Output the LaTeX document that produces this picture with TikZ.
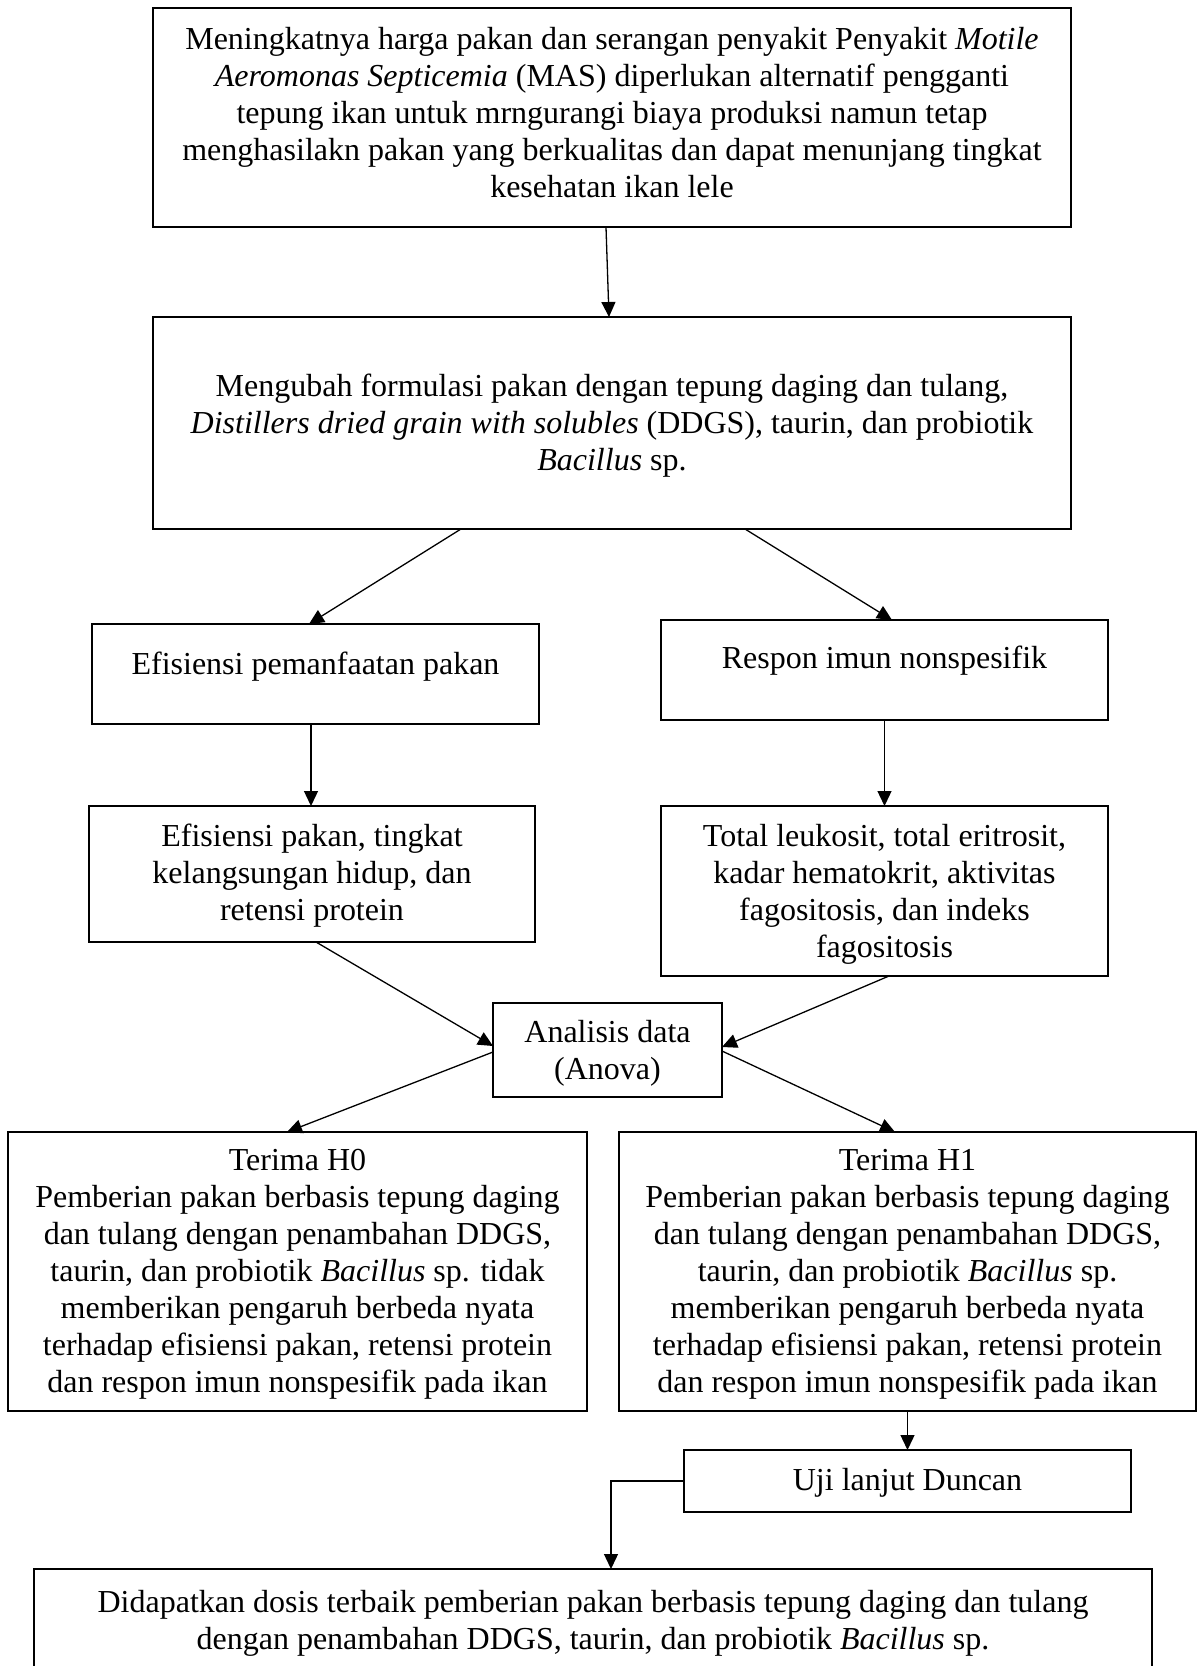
\documentclass[tikz,border=0pt]{standalone}
\usepackage{fontspec}
\setmainfont{Liberation Serif}
\usetikzlibrary{arrows.meta,calc}
\begin{document}
\begin{tikzpicture}[x=1pt,y=-1pt,
  box/.style={draw,line width=2.4pt,inner sep=0pt,outer sep=0pt},
  txt/.style={font=\fontsize{32}{37}\selectfont,align=center,inner sep=0pt},
  arr/.style={line width=1.3pt,-{Triangle[length=15pt,width=14pt]}}]
\useasboundingbox (0,0) rectangle (1198,1666);
\fill[white] (0,0) rectangle (1198,1666);
\clip (0,0) rectangle (1198,1666);

% boxes
\node[box,minimum width=918pt,minimum height=219pt] (top) at (612,117.5) {};
\node[box,minimum width=918pt,minimum height=212pt] (b2) at (612,423) {};
\node[box,minimum width=447pt,minimum height=100pt] (efp) at (315.5,674) {};
\node[box,minimum width=447pt,minimum height=100pt] (rin) at (884.5,670) {};
\node[box,minimum width=446pt,minimum height=136pt] (efk) at (312,874) {};
\node[box,minimum width=447pt,minimum height=170pt] (tot) at (884.5,891) {};
\node[box,minimum width=229pt,minimum height=94pt] (ana) at (607.5,1050) {};
\node[box,minimum width=579pt,minimum height=279pt] (h0) at (297.5,1271.5) {};
\node[box,minimum width=577pt,minimum height=279pt] (h1) at (907.5,1271.5) {};
\node[box,minimum width=447pt,minimum height=62pt] (uji) at (907.5,1481) {};
\node[box,minimum width=1118pt,minimum height=140pt] (bot) at (593,1639) {};

% texts
\node[txt] (ttop) at (612,113) {Meningkatnya harga pakan dan serangan penyakit Penyakit \textit{Motile}\\
\textit{Aeromonas Septicemia} (MAS) diperlukan alternatif pengganti\\
tepung ikan untuk mrngurangi biaya produksi namun tetap\\
menghasilakn pakan yang berkualitas dan dapat menunjang tingkat\\
kesehatan ikan lele};
\node[txt] (tb2) at (612,426) {Mengubah formulasi pakan dengan tepung daging dan tulang,\\
\textit{Distillers dried grain with solubles} (DDGS), taurin, dan probiotik\\
\textit{Bacillus} sp.};
\node[txt] (tefp) at (315.5,667) {Efisiensi pemanfaatan pakan};
\node[txt] (trin) at (884.5,661) {Respon imun nonspesifik};
\node[txt] (tefk) at (312,876) {Efisiensi pakan, tingkat\\
kelangsungan hidup, dan\\
retensi protein};
\node[txt] (ttot) at (884.5,894) {Total leukosit, total eritrosit,\\
kadar hematokrit, aktivitas\\
fagositosis, dan indeks\\
fagositosis};
\node[txt] (tana) at (607.5,1053) {Analisis data\\ (Anova)};
\node[txt] (th0) at (297.5,1274) {Terima H0\\
Pemberian pakan berbasis tepung daging\\
dan tulang dengan penambahan DDGS,\\
taurin, dan probiotik \textit{Bacillus} sp. tidak\\
memberikan pengaruh berbeda nyata\\
terhadap efisiensi pakan, retensi protein\\
dan respon imun nonspesifik pada ikan};
\node[txt] (th1) at (907.5,1274) {Terima H1\\
Pemberian pakan berbasis tepung daging\\
dan tulang dengan penambahan DDGS,\\
taurin, dan probiotik \textit{Bacillus} sp.\\
memberikan pengaruh berbeda nyata\\
terhadap efisiensi pakan, retensi protein\\
dan respon imun nonspesifik pada ikan};
\node[txt] (tuji) at (907.5,1483) {Uji lanjut Duncan};
\node[txt] (tbot) at (593,1623) {Didapatkan dosis terbaik pemberian pakan berbasis tepung daging dan tulang\\
dengan penambahan DDGS, taurin, dan probiotik \textit{Bacillus} sp.};

% connectors
\draw[arr] ($(top.south)+(-6,0)$) -- ($(b2.north)+(-3,0)$);
\draw[arr] ($(b2.south)+(-151,0)$) -- ($(efp.north)+(-6.5,0)$);
\draw[arr] ($(b2.south)+(133,0)$) -- ($(rin.north)+(7.5,0)$);
\draw[arr] ($(efp.south)+(-4.5,0)$) -- ($(efk.north)+(-1,0)$);
\draw[arr] (rin.south) -- (tot.north);
\draw[arr] ($(efk.south)+(4,0)$) -- ($(ana.west)+(0,-4)$);
\draw[arr] ($(tot.south)+(4.5,0)$) -- ($(ana.east)+(0,-3)$);
\draw[arr] ($(ana.west)+(0,2)$) -- ($(h0.north)+(-10.5,0)$);
\draw[arr] ($(ana.east)+(0,1)$) -- ($(h1.north)+(-12.5,0)$);
\draw[arr] (h1.south) -- (uji.north);
\draw[arr] (uji.west) -| ($(bot.north)+(18,0)$);
\end{tikzpicture}
\end{document}
